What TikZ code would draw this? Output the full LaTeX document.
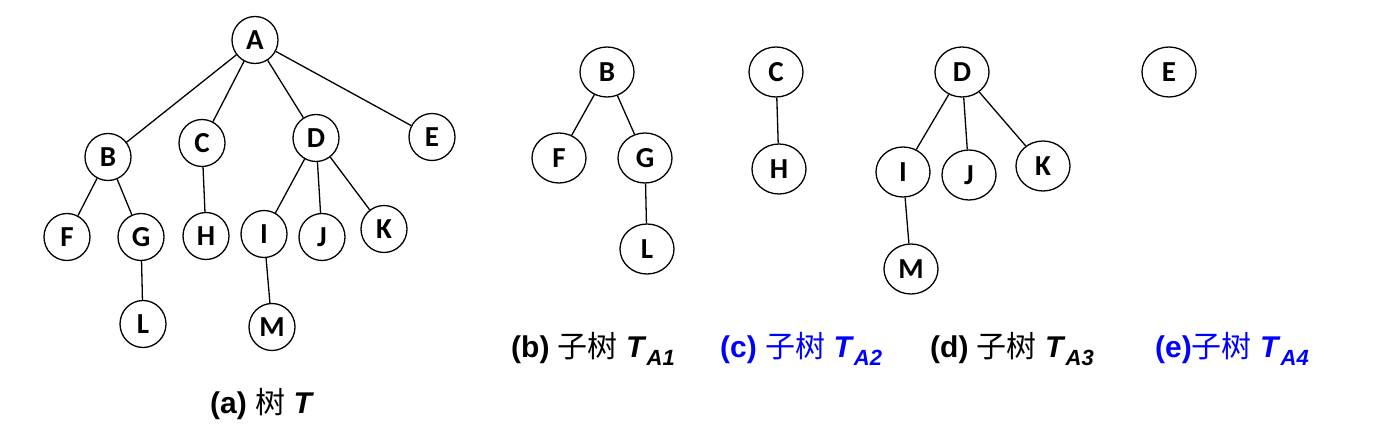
\documentclass[tikz,border=0pt]{standalone}
\usepackage{fontspec}
\setmainfont{Liberation Sans}
\newfontfamily\nodefont{Carlito}
\newfontfamily\cjk{Noto Sans CJK SC}
\usetikzlibrary{shapes.geometric}
\newcommand{\Tsub}[1]{\textbf{\textit{T}}\raisebox{-8pt}{\fontsize{22}{22}\selectfont\textbf{\textit{#1}}}}
\begin{document}
\begin{tikzpicture}[x=1pt,y=-1pt,
  tn/.style={ellipse,draw,line width=1.3pt,inner sep=0pt,minimum width=46pt,minimum height=47pt,font=\nodefont\bfseries\fontsize{29}{29}\selectfont},
  sn/.style={ellipse,draw,line width=1.3pt,inner sep=0pt,minimum width=54pt,minimum height=50pt,font=\nodefont\bfseries\fontsize{29}{29}\selectfont},
  edge/.style={line width=1.3pt},
  captxt/.style={anchor=base west,inner sep=0pt,font=\fontsize{30}{30}\selectfont}]
\useasboundingbox (0,0) rectangle (1384,446);
% tree (a)
\node[tn] (A) at (255,40) {A};
\node[tn] (B) at (108,157) {B};
\node[tn] (C) at (202,143) {C};
\node[tn] (D) at (316,138) {D};
\node[tn] (E) at (432,137) {E};
\node[tn] (F) at (67,237) {F};
\node[tn] (G) at (141,237) {G};
\node[tn] (H) at (206,236) {H};
\node[tn] (I) at (264,234) {I};
\node[tn] (J) at (322,237) {J};
\node[tn] (K) at (384,229) {K};
\node[tn] (L) at (143,324) {L};
\node[tn] (M) at (272,327) {M};
\foreach \a/\b in {A/B,A/C,A/D,A/E,B/F,B/G,G/L,C/H,D/I,D/J,D/K,I/M}
  \draw[edge] (\a) -- (\b);
\node[captxt] (capa) at (210,413) {\textbf{(a)} {\cjk 树} \textbf{\textit{T}}};
% subtree b
\node[sn] (B1) at (607,72) {B};
\node[sn] (F1) at (559,158) {F};
\node[sn] (G1) at (645,158) {G};
\node[sn] (L1) at (647,249) {L};
\draw[edge] (B1) -- (F1);
\draw[edge] (B1) -- (G1);
\draw[edge] (G1) -- (L1);
% subtree c
\node[sn] (C1) at (776,72) {C};
\node[sn] (H1) at (779,169) {H};
\draw[edge] (C1) -- (H1);
% subtree d
\node[sn] (D1) at (962,72) {D};
\node[sn] (I1) at (903,172) {I};
\node[sn] (J1) at (969,175) {J};
\node[sn] (K1) at (1043,166) {K};
\node[sn] (M1) at (911,269) {M};
\draw[edge] (D1) -- (I1);
\draw[edge] (D1) -- (J1);
\draw[edge] (D1) -- (K1);
\draw[edge] (I1) -- (M1);
% subtree e
\node[sn] (E1) at (1169,72) {E};
% captions
\node[captxt] (capb) at (511,357) {\textbf{(b)} {\cjk 子树} \Tsub{A1}};
\node[captxt,text=blue] (capc) at (720,357) {\textbf{(c)} {\cjk 子树} \Tsub{A2}};
\node[captxt] (capd) at (930,357) {\textbf{(d)} {\cjk 子树} \Tsub{A3}};
\node[captxt,text=blue] (cape) at (1155,357) {\textbf{(e)}{\cjk 子树} \Tsub{A4}};
\end{tikzpicture}
\end{document}
